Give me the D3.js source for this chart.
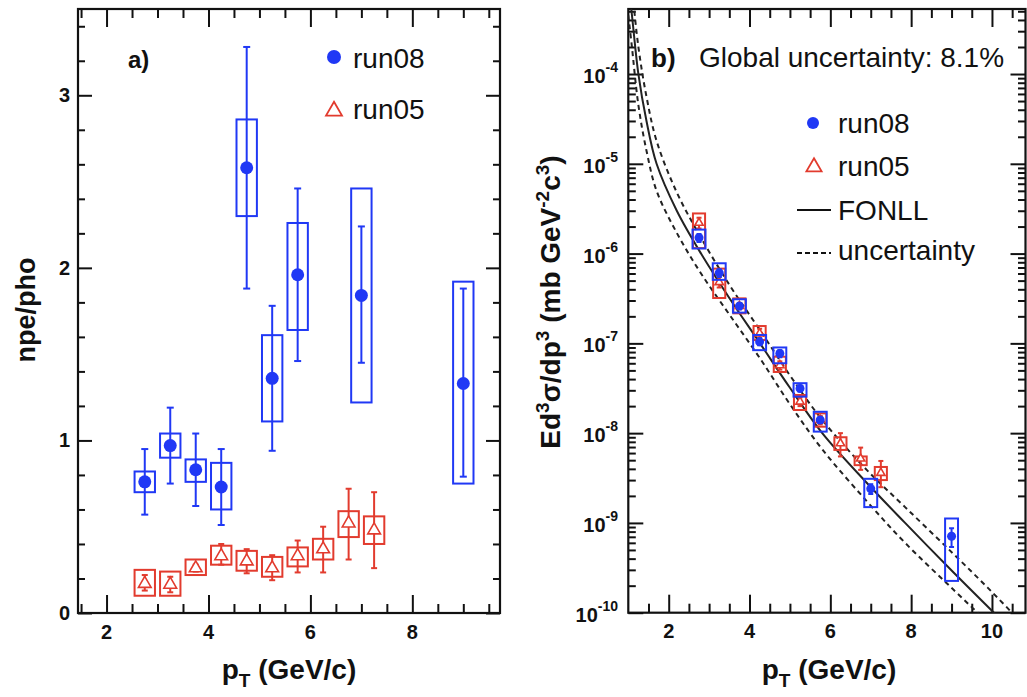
<!DOCTYPE html>
<html>
<head>
<meta charset="utf-8">
<script src="https://cdn.jsdelivr.net/npm/d3@7"></script>
<style>
  body { margin: 0; background: #fff; }
  svg { font-family: "Liberation Sans", Arial, Helvetica, sans-serif; }
</style>
</head>
<body>
<svg id="chart" width="1027" height="697"></svg>
<script>
// ---- panel a) npe/pho ----
var ptA08 = [2.75, 3.25, 3.75, 4.25, 4.75, 5.25, 5.75, 7.0, 9.0];
var ratio08 = [0.76, 0.97, 0.83, 0.73, 2.58, 1.36, 1.96, 1.84, 1.33];
var ratio08StatLo = [0.57, 0.75, 0.62, 0.51, 1.88, 0.94, 1.46, 1.45, 0.79];
var ratio08StatHi = [0.95, 1.19, 1.04, 0.95, 3.28, 1.78, 2.46, 2.24, 1.88];
var ratio08SysLo = [0.70, 0.90, 0.76, 0.60, 2.30, 1.11, 1.64, 1.22, 0.75];
var ratio08SysHi = [0.82, 1.04, 0.89, 0.87, 2.86, 1.61, 2.26, 2.46, 1.92];

var ptA05 = [2.75, 3.25, 3.75, 4.25, 4.75, 5.25, 5.75, 6.25, 6.75, 7.25];
var ratio05 = [0.17, 0.165, 0.26, 0.33, 0.30, 0.26, 0.33, 0.37, 0.52, 0.48];
var ratio05StatLo = [0.13, 0.12, 0.24, 0.28, 0.23, 0.19, 0.235, 0.235, 0.31, 0.26];
var ratio05StatHi = [0.22, 0.21, 0.28, 0.40, 0.37, 0.335, 0.42, 0.50, 0.72, 0.70];
var ratio05SysLo = [0.10, 0.10, 0.22, 0.28, 0.245, 0.21, 0.27, 0.31, 0.44, 0.40];
var ratio05SysHi = [0.25, 0.24, 0.31, 0.39, 0.36, 0.325, 0.38, 0.43, 0.59, 0.56];

var ticksAX = [2, 4, 6, 8];
var ticksAY = [0, 1, 2, 3];

// ---- panel b) cross section ----
var ptB08 = [2.75, 3.25, 3.75, 4.25, 4.75, 5.25, 5.75, 7.0, 9.0];
var xs08 = [1.5e-6, 6.1e-7, 2.6e-7, 1.04e-7, 7.7e-8, 3.15e-8, 1.4e-8, 2.4e-9, 7.1e-10];
var xs08StatLo = [1.35e-6, 5.5e-7, 2.4e-7, 9.5e-8, 7.0e-8, 2.9e-8, 1.3e-8, 2.1e-9, 5.4e-10];
var xs08StatHi = [1.65e-6, 6.7e-7, 2.8e-7, 1.14e-7, 8.4e-8, 3.4e-8, 1.5e-8, 2.7e-9, 8.7e-10];
var xs08SysLo = [1.14e-6, 5.1e-7, 2.2e-7, 8.4e-8, 6.0e-8, 2.55e-8, 1.04e-8, 1.5e-9, 2.26e-10];
var xs08SysHi = [1.85e-6, 7.8e-7, 3.1e-7, 1.24e-7, 9.0e-8, 3.6e-8, 1.73e-8, 3.1e-9, 1.12e-9];

var ptB05 = [2.75, 3.25, 3.75, 4.25, 4.75, 5.25, 5.75, 6.25, 6.75, 7.25];
var xs05 = [2.2e-6, 4.8e-7, 2.6e-7, 1.29e-7, 5.7e-8, 2.24e-8, 1.4e-8, 7.7e-9, 5.2e-9, 3.6e-9];
var xs05StatLo = [1.9e-6, 4.2e-7, 2.4e-7, 1.15e-7, 5.1e-8, 2.0e-8, 1.25e-8, 5.5e-9, 3.9e-9, 2.5e-9];
var xs05StatHi = [2.5e-6, 5.5e-7, 2.8e-7, 1.45e-7, 6.3e-8, 2.5e-8, 1.55e-8, 1.0e-8, 6.9e-9, 4.9e-9];
var xs05SysLo = [1.15e-6, 3.2e-7, 2.16e-7, 1.09e-7, 4.8e-8, 1.81e-8, 1.18e-8, 6.5e-9, 4.4e-9, 3.0e-9];
var xs05SysHi = [2.8e-6, 6.8e-7, 3.17e-7, 1.56e-7, 7.1e-8, 2.66e-8, 1.66e-8, 9.0e-9, 5.5e-9, 4.2e-9];

// FONLL curve and its uncertainty band
var fonllPt = [1.0, 1.08, 1.25, 1.45, 1.7, 2.2, 2.8, 3.5, 4.26, 5.0, 5.8, 6.9, 7.85, 9.05, 10.0, 10.85];
var fonllCentral = [1.0e-3, 5.0e-4, 1.0e-4, 3.0e-5, 1.0e-5, 3.0e-6, 1.0e-6, 3.2e-7, 1.0e-7, 3.2e-8, 1.0e-8, 2.8e-9, 1.0e-9, 2.8e-10, 1.05e-10, 4.4e-11];
var fonllUpper = [2.0e-3, 1.0e-3, 2.0e-4, 5.6e-5, 1.8e-5, 4.8e-6, 1.5e-6, 4.5e-7, 1.4e-7, 4.4e-8, 1.4e-8, 3.9e-9, 1.5e-9, 4.5e-10, 1.7e-10, 6.8e-11];
var fonllLower = [4.5e-4, 2.2e-4, 4.5e-5, 1.4e-5, 5.0e-6, 1.7e-6, 6.0e-7, 2.1e-7, 6.8e-8, 2.1e-8, 6.6e-9, 1.75e-9, 6.0e-10, 1.8e-10, 7.0e-11, 2.9e-11];

var ticksBX = [2, 4, 6, 8, 10];
var ticksBY = [1e-10, 1e-9, 1e-8, 1e-7, 1e-6, 1e-5, 1e-4];
var expBY = ["-10", "-9", "-8", "-7", "-6", "-5", "-4"];

var blue = "#2038f5", red = "#e23b2e";
var svg = d3.select("#chart");

// scales
var xA = d3.scaleLinear().domain([1.44, 9.72]).range([78, 500]);
var yA = d3.scaleLinear().domain([0, 3.5]).range([613, 9]);
var xB = d3.scaleLinear().domain([1.0, 10.83]).range([628.3, 1025.5]);
var yB = d3.scaleLog().domain([1e-10, 5.3e-4]).range([612.7, 9]);

function minorRange(a, b, step, majors) {
  return d3.range(a, b + 1e-9, step).filter(function (v) {
    return majors.every(function (m) { return Math.abs(m - v) > 1e-6; });
  });
}

// ticks on all four sides, pointing into the frame
function frame(x, y, xMaj, xMin, yMaj, yMin, xLen, yLen) {
  var g = svg.append("g");
  var x0 = x.range()[0], x1 = x.range()[1], y0 = y.range()[0], y1 = y.range()[1];
  var axes = [
    [d3.axisBottom(x), "translate(0," + y0 + ")", xMaj, xMin, xLen],
    [d3.axisTop(x), "translate(0," + y1 + ")", xMaj, xMin, xLen],
    [d3.axisLeft(y), "translate(" + x0 + ",0)", yMaj, yMin, yLen],
    [d3.axisRight(y), "translate(" + x1 + ",0)", yMaj, yMin, yLen]
  ];
  axes.forEach(function (a) {
    [[a[2], a[4][0]], [a[3], a[4][1]]].forEach(function (set) {
      g.append("g").attr("transform", a[1])
        .call(a[0].tickValues(set[0]).tickSize(-set[1]).tickSizeOuter(0).tickFormat(""))
        .call(function (s) { s.select(".domain").remove(); })
        .selectAll("line").attr("stroke", "#111").attr("stroke-width", 2);
    });
  });
  g.append("rect").attr("x", x0).attr("y", y1).attr("width", x1 - x0).attr("height", y0 - y1)
    .attr("fill", "none").attr("stroke", "#111").attr("stroke-width", 2.2);
}

frame(xA, yA, ticksAX, minorRange(1.5, 9.5, 0.5, ticksAX),
      ticksAY, minorRange(0, 3.4, 0.2, ticksAY), [18, 9], [14, 7]);

var logMinor = [];
ticksBY.forEach(function (d) { for (var k = 2; k <= 9; k++) if (d * k < 5.3e-4) logMinor.push(d * k); });
frame(xB, yB, ticksBX, minorRange(1.5, 10.5, 0.5, ticksBX), ticksBY, logMinor, [18, 9], [15, 7.5]);

// tick labels
var lab = svg.append("g").attr("font-weight", "bold").attr("font-size", 20).attr("fill", "#111");
lab.selectAll(".ax").data(ticksAX).enter().append("text")
  .attr("x", function (d) { return xA(d); }).attr("y", 639).attr("text-anchor", "middle").text(function (d) { return d; });
lab.selectAll(".ay").data(ticksAY).enter().append("text")
  .attr("x", 70).attr("y", function (d) { return yA(d) + 7; }).attr("text-anchor", "end").text(function (d) { return d; });
lab.selectAll(".bx").data(ticksBX).enter().append("text")
  .attr("x", function (d) { return xB(d); }).attr("y", 638).attr("text-anchor", "middle").text(function (d) { return d; });
var byl = lab.selectAll(".by").data(ticksBY).enter().append("text")
  .attr("x", 618).attr("y", function (d) { return yB(d) + 9; }).attr("text-anchor", "end");
byl.append("tspan").text("10");
byl.append("tspan").attr("font-size", 14).attr("dy", -11).text(function (d, i) { return expBY[i]; });

// axis titles
var tt = svg.append("g").attr("font-weight", "bold").attr("font-size", 28).attr("fill", "#111");
function ptTitle(cx) {
  var t = tt.append("text").attr("x", cx).attr("y", 679).attr("text-anchor", "middle");
  t.append("tspan").text("p");
  t.append("tspan").attr("font-size", 19).attr("dy", 8).text("T");
  t.append("tspan").attr("dy", -8).text(" (GeV/c)");
}
ptTitle(289);
ptTitle(829);
tt.append("text").attr("transform", "translate(35,310) rotate(-90)").attr("text-anchor", "middle")
  .attr("font-size", 27).text("npe/pho");
var yt = tt.append("text").attr("transform", "translate(560,302) rotate(-90)").attr("text-anchor", "middle");
[["Ed", 0], ["3", 1], ["\u03c3/dp", 0], ["3", 1], [" (mb GeV", 0], ["-2", 1], ["c", 0], ["3", 1], [")", 0]]
  .forEach(function (p, i, arr) {
    var prev = i > 0 ? arr[i - 1][1] : 0;
    var dy = p[1] && !prev ? -11 : (!p[1] && prev ? 11 : 0);
    yt.append("tspan").attr("font-size", p[1] ? 19 : 28).attr("dy", dy).text(p[0]);
  });

// helpers for data marks
function tri(size) { return d3.symbol().type(d3.symbolTriangle).size(size)(); }

function drawSeries(g, x, y, pts, vals, sLo, sHi, eLo, eHi, color, boxHalf, cap, marker) {
  var idx = d3.range(pts.length);
  g.selectAll(null).data(idx).enter().append("rect")
    .attr("x", function (i) { return x(pts[i] - boxHalf); })
    .attr("y", function (i) { return y(sHi[i]); })
    .attr("width", function (i) { return x(pts[i] + boxHalf) - x(pts[i] - boxHalf); })
    .attr("height", function (i) { return y(sLo[i]) - y(sHi[i]); })
    .attr("fill", "none").attr("stroke", color).attr("stroke-width", 2);
  g.selectAll(null).data(idx).enter().append("line")
    .attr("x1", function (i) { return x(pts[i]); }).attr("x2", function (i) { return x(pts[i]); })
    .attr("y1", function (i) { return y(eLo[i]); }).attr("y2", function (i) { return y(eHi[i]); })
    .attr("stroke", color).attr("stroke-width", 2);
  [eLo, eHi].forEach(function (arr) {
    g.selectAll(null).data(idx).enter().append("line")
      .attr("x1", function (i) { return x(pts[i]) - cap; }).attr("x2", function (i) { return x(pts[i]) + cap; })
      .attr("y1", function (i) { return y(arr[i]); }).attr("y2", function (i) { return y(arr[i]); })
      .attr("stroke", color).attr("stroke-width", 2);
  });
  if (marker.type === "circle") {
    g.selectAll(null).data(idx).enter().append("circle")
      .attr("cx", function (i) { return x(pts[i]); }).attr("cy", function (i) { return y(vals[i]); })
      .attr("r", marker.r).attr("fill", color);
  } else {
    g.selectAll(null).data(idx).enter().append("path")
      .attr("d", tri(marker.size))
      .attr("transform", function (i) { return "translate(" + x(pts[i]) + "," + y(vals[i]) + ")"; })
      .attr("fill", "#fff").attr("stroke", color).attr("stroke-width", 1.6);
  }
}

// panel a
var gA = svg.append("g");
drawSeries(gA, xA, yA, ptA05, ratio05, ratio05SysLo, ratio05SysHi, ratio05StatLo, ratio05StatHi,
           red, 0.2, 3, { type: "tri", size: 70 });
drawSeries(gA, xA, yA, ptA08, ratio08, ratio08SysLo, ratio08SysHi, ratio08StatLo, ratio08StatHi,
           blue, 0.2, 3.5, { type: "circle", r: 6.5 });

// panel b curves
svg.append("clipPath").attr("id", "clipB").append("rect")
  .attr("x", 628.3).attr("y", 9).attr("width", 1025.5 - 628.3).attr("height", 612.7 - 9);
var gB = svg.append("g").attr("clip-path", "url(#clipB)");
function curve(vals) {
  return d3.line().x(function (d, i) { return xB(fonllPt[i]); }).y(function (d) { return yB(d); })
    .curve(d3.curveCatmullRom.alpha(0.5))(vals);
}
gB.append("path").attr("d", curve(fonllUpper)).attr("fill", "none").attr("stroke", "#222")
  .attr("stroke-width", 2).attr("stroke-dasharray", "5,4");
gB.append("path").attr("d", curve(fonllLower)).attr("fill", "none").attr("stroke", "#222")
  .attr("stroke-width", 2).attr("stroke-dasharray", "5,4");
gB.append("path").attr("d", curve(fonllCentral)).attr("fill", "none").attr("stroke", "#222")
  .attr("stroke-width", 2);

drawSeries(gB, xB, yB, ptB05, xs05, xs05SysLo, xs05SysHi, xs05StatLo, xs05StatHi,
           red, 0.15, 2.5, { type: "tri", size: 30 });
drawSeries(gB, xB, yB, ptB08, xs08, xs08SysLo, xs08SysHi, xs08StatLo, xs08StatHi,
           blue, 0.16, 2.5, { type: "circle", r: 4.5 });

// panel labels and legends
var tx = svg.append("g").attr("fill", "#111").attr("font-size", 28);
tx.append("text").attr("x", 128).attr("y", 68).attr("font-weight", "bold").attr("font-size", 24).text("a)");
tx.append("circle").attr("cx", 334).attr("cy", 57).attr("r", 7).attr("fill", blue);
tx.append("text").attr("x", 353).attr("y", 68).text("run08");
tx.append("path").attr("d", tri(110)).attr("transform", "translate(334,111)")
  .attr("fill", "none").attr("stroke", red).attr("stroke-width", 1.8);
tx.append("text").attr("x", 353).attr("y", 119).text("run05");

tx.append("text").attr("x", 651).attr("y", 67).attr("font-weight", "bold").attr("font-size", 26).text("b)");
tx.append("text").attr("x", 699).attr("y", 67).text("Global uncertainty: 8.1%");
tx.append("circle").attr("cx", 813).attr("cy", 123).attr("r", 6).attr("fill", blue);
tx.append("text").attr("x", 838).attr("y", 133).text("run08");
tx.append("path").attr("d", tri(100)).attr("transform", "translate(814,167)")
  .attr("fill", "none").attr("stroke", red).attr("stroke-width", 1.8);
tx.append("text").attr("x", 838).attr("y", 176).text("run05");
tx.append("line").attr("x1", 797).attr("x2", 831).attr("y1", 210).attr("y2", 210)
  .attr("stroke", "#111").attr("stroke-width", 2);
tx.append("text").attr("x", 838).attr("y", 220).text("FONLL");
tx.append("line").attr("x1", 797).attr("x2", 831).attr("y1", 253).attr("y2", 253)
  .attr("stroke", "#111").attr("stroke-width", 2).attr("stroke-dasharray", "5,3");
tx.append("text").attr("x", 838).attr("y", 260).text("uncertainty");
</script>
</body>
</html>
